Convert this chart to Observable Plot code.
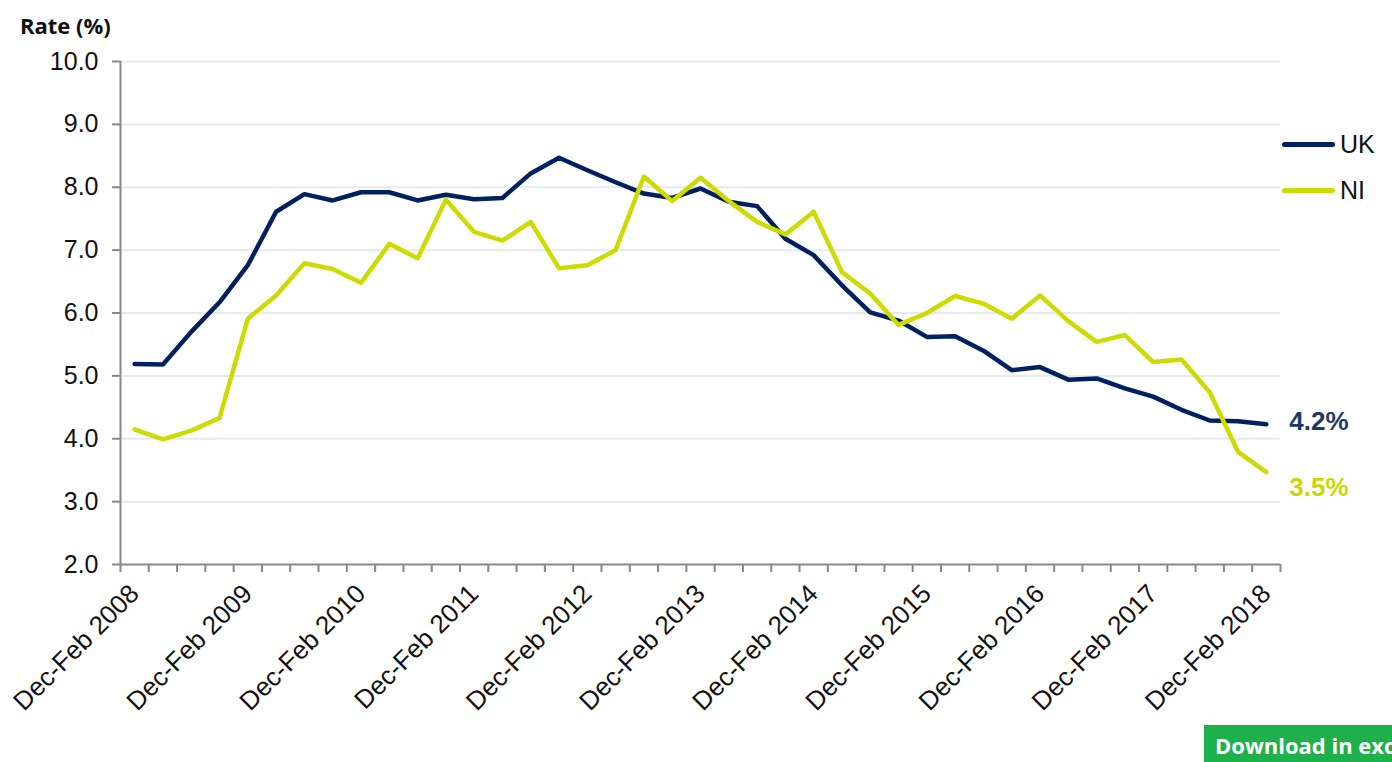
<!DOCTYPE html>
<html>
<head>
<meta charset="utf-8">
<script src="https://cdn.jsdelivr.net/npm/d3@7"></script>
<script src="https://cdn.jsdelivr.net/npm/@observablehq/plot@0.6"></script>
<style>
  body { margin: 0; background: #fff; }
  #wrap { position: relative; width: 1392px; height: 762px; overflow: hidden; background: #fff; font-family: "Liberation Sans", Arial, sans-serif; }
  #title { position: absolute; left: 20px; top: 10px; font: bold 22px "Open Sans", sans-serif; color: #111; }
  #chart { position: absolute; left: 0; top: 40px; }
  .leg { position: absolute; left: 1282px; height: 24px; display: flex; align-items: center; font-size: 25px; color: #111; }
  .leg span.sw { display: inline-block; width: 53px; height: 5px; border-radius: 3px; margin-right: 5px; }
  #dl { position: absolute; left: 1204px; top: 725px; width: 188px; height: 40px; background: #1eb14b; color: #fff; font: bold 22px "Open Sans", sans-serif; padding-left: 11px; box-sizing: border-box; line-height: 40px; white-space: nowrap; overflow: hidden; }
</style>
</head>
<body>
<div id="wrap">
  <div id="title">Rate (%)</div>
  <div id="chart"></div>
  <div id="legend"></div>
  <div id="dl">Download in excel</div>
</div>
<script>
const periods = [
  "Dec-Feb 2008","Mar-May 2008","Jun-Aug 2008","Sep-Nov 2008",
  "Dec-Feb 2009","Mar-May 2009","Jun-Aug 2009","Sep-Nov 2009",
  "Dec-Feb 2010","Mar-May 2010","Jun-Aug 2010","Sep-Nov 2010",
  "Dec-Feb 2011","Mar-May 2011","Jun-Aug 2011","Sep-Nov 2011",
  "Dec-Feb 2012","Mar-May 2012","Jun-Aug 2012","Sep-Nov 2012",
  "Dec-Feb 2013","Mar-May 2013","Jun-Aug 2013","Sep-Nov 2013",
  "Dec-Feb 2014","Mar-May 2014","Jun-Aug 2014","Sep-Nov 2014",
  "Dec-Feb 2015","Mar-May 2015","Jun-Aug 2015","Sep-Nov 2015",
  "Dec-Feb 2016","Mar-May 2016","Jun-Aug 2016","Sep-Nov 2016",
  "Dec-Feb 2017","Mar-May 2017","Jun-Aug 2017","Sep-Nov 2017",
  "Dec-Feb 2018"
];
const ukRate = [5.19,5.18,5.70,6.17,6.76,7.61,7.89,7.79,7.92,7.92,7.79,7.88,7.81,7.83,8.22,8.47,8.27,8.08,7.90,7.83,7.98,7.77,7.70,7.18,6.92,6.44,6.01,5.88,5.62,5.63,5.40,5.09,5.14,4.94,4.96,4.80,4.67,4.46,4.29,4.28,4.23];
const niRate = [4.15,3.99,4.13,4.33,5.91,6.28,6.79,6.70,6.48,7.10,6.87,7.80,7.29,7.15,7.45,6.71,6.76,7.00,8.17,7.78,8.15,7.78,7.45,7.25,7.61,6.65,6.31,5.81,6.00,6.27,6.15,5.91,6.28,5.87,5.54,5.65,5.22,5.26,4.74,3.79,3.47];
const xTickLabels = ["Dec-Feb 2008","Dec-Feb 2009","Dec-Feb 2010","Dec-Feb 2011","Dec-Feb 2012","Dec-Feb 2013","Dec-Feb 2014","Dec-Feb 2015","Dec-Feb 2016","Dec-Feb 2017","Dec-Feb 2018"];
const yTicks = [2,3,4,5,6,7,8,9,10];
const seriesNames = ["UK","NI"];
const seriesColors = ["#002060","#cddc00"];
const labelColors = ["#1f3864","#c9d800"];
const endLabels = ["4.2%","3.5%"];

const rows = periods.map((p, i) => ({i, period: p, uk: ukRate[i], ni: niRate[i]}));
const labelIdx = xTickLabels.map(l => periods.indexOf(l));
const bandEdges = d3.range(-0.5, periods.length, 1);
const last = rows[rows.length - 1];

const chart = Plot.plot({
  width: 1392,
  height: 722,
  marginLeft: 120,
  marginRight: 112,
  marginTop: 21,
  marginBottom: 198,
  style: {fontFamily: "'Liberation Sans', Arial, sans-serif", background: "#fff", color: "#111"},
  x: {type: "linear", domain: [-0.5, periods.length - 0.5]},
  y: {domain: [2, 10]},
  marks: [
    Plot.gridY(yTicks.slice(1), {stroke: "#e6e9ef", strokeOpacity: 1, strokeWidth: 2}),
    Plot.ruleX([-0.5], {stroke: "#888", strokeWidth: 2}),
    Plot.ruleY([2], {stroke: "#888", strokeWidth: 2}),
    Plot.axisY({ticks: yTicks, tickFormat: d => d.toFixed(1), tickSize: 8, tickPadding: 14, fontSize: 25, stroke: "#888", strokeWidth: 2, fill: "#111", label: null}),
    Plot.axisX({ticks: bandEdges, text: null, tickSize: 8, stroke: "#888", strokeWidth: 2, label: null}),
    Plot.axisX({ticks: labelIdx, tickFormat: i => periods[i], tickSize: 0, tickPadding: 25, tickRotate: -45, fontSize: 26, fill: "#111", label: null}),
    Plot.lineY(rows, {x: "i", y: "uk", stroke: seriesColors[0], strokeWidth: 4.5, strokeLinejoin: "round", strokeLinecap: "round"}),
    Plot.lineY(rows, {x: "i", y: "ni", stroke: seriesColors[1], strokeWidth: 4.5, strokeLinejoin: "round", strokeLinecap: "round"}),
    Plot.text([last], {x: "i", y: "uk", text: () => endLabels[0], dx: 23, dy: -3, textAnchor: "start", fontSize: 26, fontWeight: "bold", fill: labelColors[0]}),
    Plot.text([last], {x: "i", y: "ni", text: () => endLabels[1], dx: 23, dy: 16, textAnchor: "start", fontSize: 26, fontWeight: "bold", fill: labelColors[1]})
  ]
});
document.getElementById("chart").appendChild(chart);

const legend = document.getElementById("legend");
seriesNames.forEach((name, k) => {
  const d = document.createElement("div");
  d.className = "leg";
  d.style.top = (132 + k * 46) + "px";
  d.innerHTML = `<span class="sw" style="background:${seriesColors[k]}"></span>${name}`;
  legend.appendChild(d);
});
</script>
</body>
</html>
